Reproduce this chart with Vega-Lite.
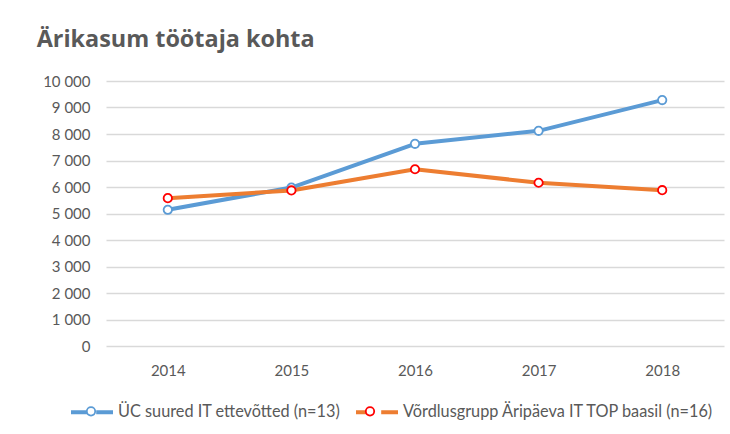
{
  "$schema": "https://vega.github.io/schema/vega-lite/v6.json",
  "width": 618,
  "height": 265,
  "autosize": {"type": "none"},
  "padding": {"left": 106, "top": 81, "right": 6, "bottom": 88},
  "background": "white",
  "title": {
    "text": "Ärikasum töötaja kohta",
    "anchor": "start",
    "frame": "bounds",
    "font": "Open Sans",
    "fontSize": 23.4,
    "fontWeight": "bold",
    "color": "#595959",
    "baseline": "alphabetic",
    "offset": 34,
    "dy": 30,
    "dx": -6
  },
  "data": {
    "values": [
      {"year": "2014", "series": "ÜC suured IT ettevõtted (n=13)", "value": 5140},
      {"year": "2015", "series": "ÜC suured IT ettevõtted (n=13)", "value": 5980},
      {"year": "2016", "series": "ÜC suured IT ettevõtted (n=13)", "value": 7630},
      {"year": "2017", "series": "ÜC suured IT ettevõtted (n=13)", "value": 8120},
      {"year": "2018", "series": "ÜC suured IT ettevõtted (n=13)", "value": 9280},
      {"year": "2014", "series": "Võrdlusgrupp Äripäeva IT TOP baasil (n=16)", "value": 5580},
      {"year": "2015", "series": "Võrdlusgrupp Äripäeva IT TOP baasil (n=16)", "value": 5870},
      {"year": "2016", "series": "Võrdlusgrupp Äripäeva IT TOP baasil (n=16)", "value": 6670},
      {"year": "2017", "series": "Võrdlusgrupp Äripäeva IT TOP baasil (n=16)", "value": 6160},
      {"year": "2018", "series": "Võrdlusgrupp Äripäeva IT TOP baasil (n=16)", "value": 5880}
    ]
  },
  "encoding": {
    "x": {
      "field": "year",
      "type": "nominal",
      "scale": {"type": "point", "padding": 0.5},
      "axis": {"title": null, "labelAngle": 0, "grid": false, "domain": false, "ticks": false, "labelPadding": 17}
    },
    "y": {
      "field": "value",
      "type": "quantitative",
      "scale": {"domain": [0, 10000], "nice": false},
      "axis": {
        "title": null,
        "values": [0, 1000, 2000, 3000, 4000, 5000, 6000, 7000, 8000, 9000, 10000],
        "labelExpr": "replace(format(datum.value, ','), ',', ' ')",
        "domain": false,
        "ticks": false,
        "labelPadding": 16,
        "gridColor": "#d9d9d9",
        "gridWidth": 1.3
      }
    }
  },
  "layer": [
    {
      "mark": {"type": "line", "strokeWidth": 4, "strokeCap": "round", "strokeJoin": "round"},
      "encoding": {
        "color": {
          "field": "series",
          "type": "nominal",
          "scale": {
            "domain": ["ÜC suured IT ettevõtted (n=13)", "Võrdlusgrupp Äripäeva IT TOP baasil (n=16)"],
            "range": ["#5B9BD5", "#ED7D31"]
          },
          "legend": {
            "orient": "none",
            "legendX": -37,
            "legendY": 308,
            "direction": "horizontal",
            "columns": 2,
            "title": null,
            "symbolType": "M-1,0L-0.2,0M0.2,0L1,0",
            "symbolSize": 1764,
            "symbolStrokeWidth": 4,
            "labelOffset": 3,
            "columnPadding": 7,
            "labelLimit": 400,
            "labelFontSize": 16.3,
            "padding": 0
          }
        }
      }
    },
    {
      "mark": {"type": "point", "shape": "circle", "filled": false, "fill": "white", "size": 70, "strokeWidth": 1.8, "opacity": 1},
      "encoding": {
        "stroke": {
          "field": "series",
          "type": "nominal",
          "sort": ["ÜC suured IT ettevõtted (n=13)", "Võrdlusgrupp Äripäeva IT TOP baasil (n=16)"],
          "scale": {"range": ["#5B9BD5", "#FF0000"]},
          "legend": {
            "orient": "none",
            "legendX": -37,
            "legendY": 308,
            "direction": "horizontal",
            "columns": 2,
            "title": null,
            "symbolType": "M0.2,0A0.2,0.2 0 1,1 -0.2,0A0.2,0.2 0 1,1 0.2,0Z",
            "symbolSize": 1764,
            "symbolStrokeWidth": 1.8,
            "symbolFillColor": "white",
            "labelOffset": 3,
            "columnPadding": 232,
            "labelExpr": "''",
            "labelLimit": 400,
            "padding": 0
          }
        }
      }
    }
  ],
  "config": {
    "view": {"stroke": null},
    "font": "Lato",
    "axis": {"labelFont": "Lato", "labelFontSize": 15, "labelColor": "#595959"},
    "legend": {"labelFont": "Lato", "labelFontSize": 16.3, "labelColor": "#595959"}
  }
}
